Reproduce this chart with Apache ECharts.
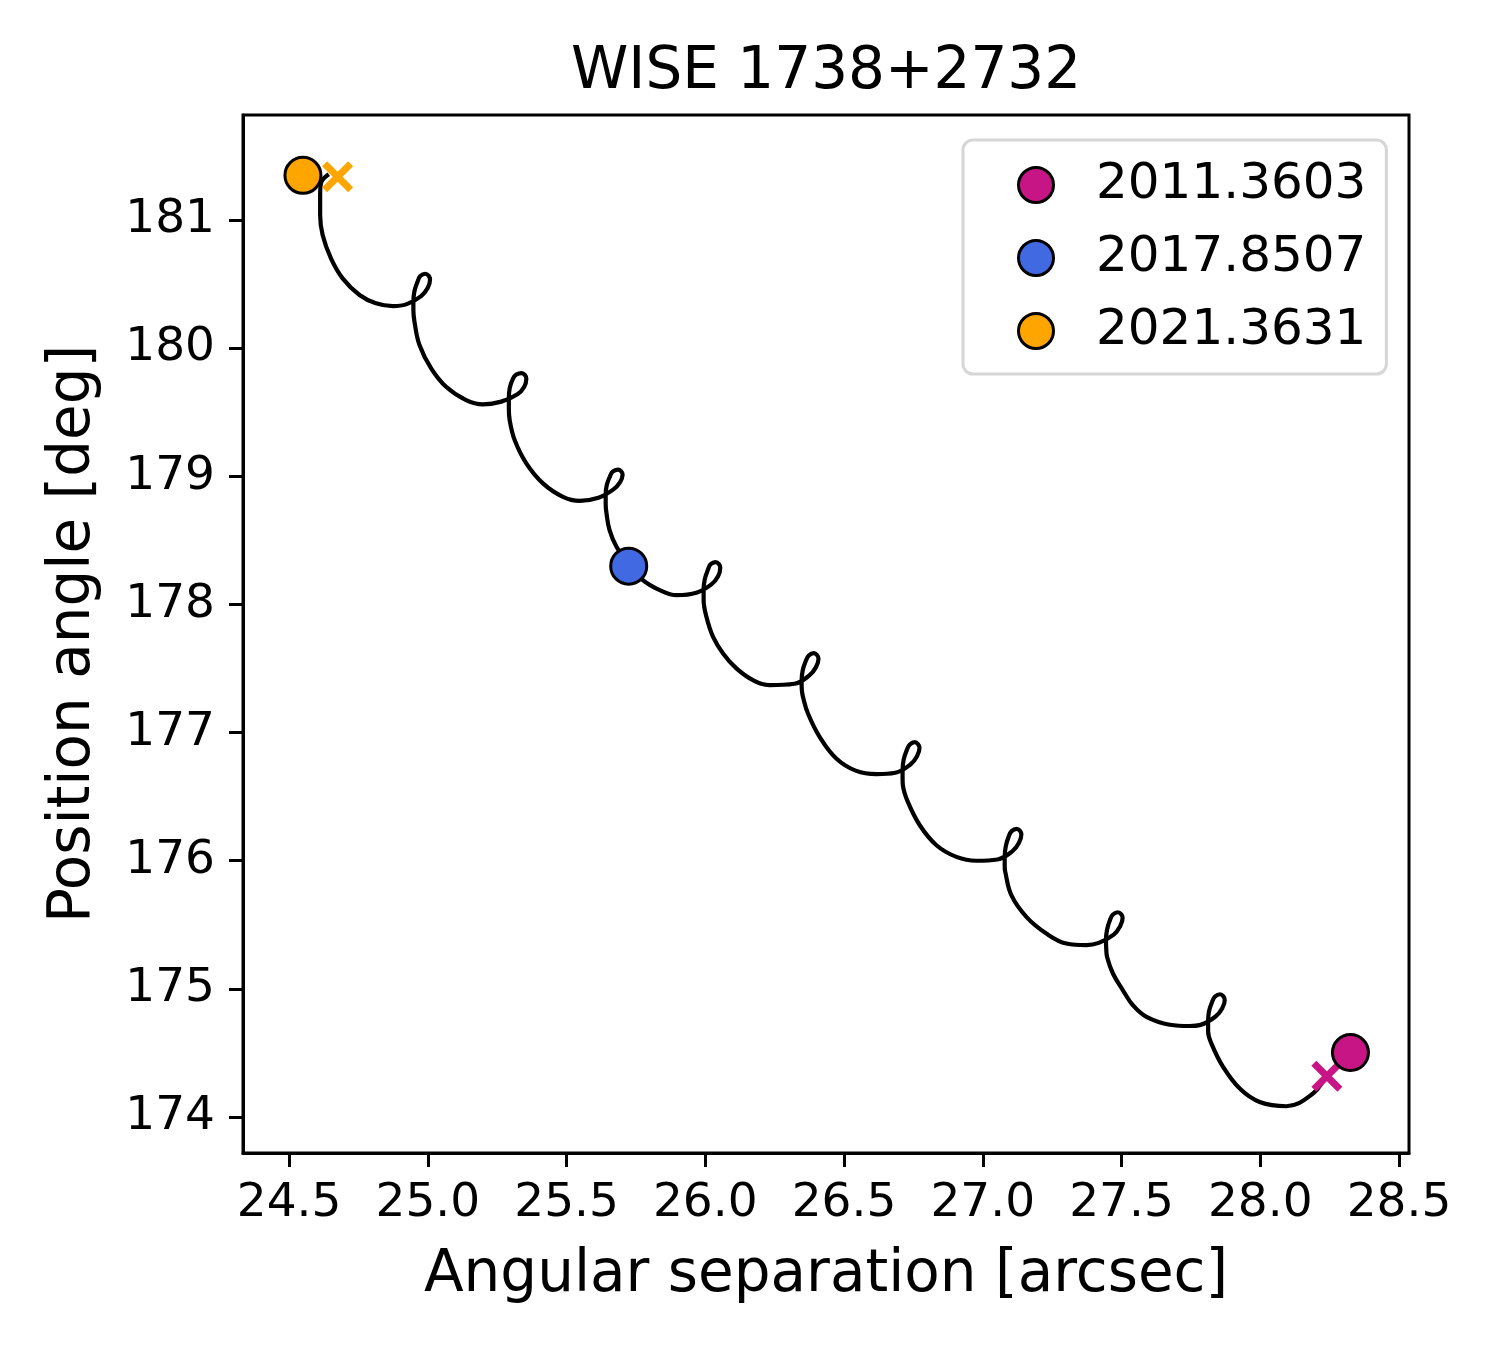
<!DOCTYPE html>
<html>
<head>
<meta charset="utf-8">
<title>WISE 1738+2732</title>
<script src="https://cdn.jsdelivr.net/npm/echarts@6.0.0/dist/echarts.min.js"></script>
<style>
  html, body { margin: 0; padding: 0; background: #fff; }
  #track { width: 1500px; height: 1350px; }
</style>
</head>
<body>
<div id="track"></div>
<script>
// separation / position angle of the model track, one row per yearly loop
const trackSep = [
    28.304, 28.240, 28.190, 28.094, 27.998, 27.926, 27.866, 27.824, 27.812, 27.812,
    27.815, 27.827, 27.837, 27.855, 27.872, 27.863, 27.839, 27.785,
    27.746, 27.674, 27.590, 27.541, 27.505, 27.469, 27.448, 27.445, 27.444,
    27.448, 27.459, 27.469, 27.487, 27.504, 27.495, 27.472, 27.418,
    27.373, 27.301, 27.229, 27.157, 27.103, 27.081, 27.079, 27.079,
    27.083, 27.094, 27.104, 27.122, 27.139, 27.130, 27.107, 27.053,
    26.977, 26.905, 26.833, 26.773, 26.730, 26.712, 26.711, 26.711,
    26.715, 26.727, 26.737, 26.755, 26.772, 26.763, 26.739, 26.685,
    26.617, 26.544, 26.472, 26.412, 26.370, 26.352, 26.348, 26.347,
    26.351, 26.363, 26.373, 26.391, 26.408, 26.399, 26.375, 26.321,
    26.232, 26.172, 26.112, 26.064, 26.028, 26.004, 25.994, 25.994,
    25.998, 26.010, 26.019, 26.037, 26.054, 26.046, 26.022, 25.968,
    25.896, 25.836, 25.775, 25.724, 25.680, 25.655, 25.644, 25.641, 25.641,
    25.645, 25.657, 25.666, 25.685, 25.702, 25.693, 25.669, 25.615,
    25.547, 25.487, 25.415, 25.355, 25.313, 25.295, 25.292, 25.292,
    25.295, 25.307, 25.319, 25.338, 25.355, 25.347, 25.323, 25.265,
    25.198, 25.138, 25.066, 25.012, 24.970, 24.952, 24.948, 24.948,
    24.952, 24.964, 24.973, 24.991, 25.008, 25.000, 24.976, 24.922,
    24.874, 24.813, 24.754, 24.693, 24.651, 24.621, 24.612, 24.612, 24.615, 24.643
];
const trackPa = [
    174.459, 174.318, 174.183, 174.084, 174.117, 174.222, 174.391, 174.573, 174.669, 174.740,
    174.823, 174.901, 174.940, 174.958, 174.914, 174.849, 174.784, 174.719,
    174.710, 174.720, 174.781, 174.872, 174.989, 175.120, 175.249, 175.310, 175.380,
    175.463, 175.541, 175.580, 175.598, 175.555, 175.489, 175.424, 175.359,
    175.341, 175.354, 175.432, 175.562, 175.731, 175.913, 175.957, 176.030,
    176.114, 176.192, 176.231, 176.249, 176.205, 176.139, 176.075, 176.010,
    176.000, 176.030, 176.121, 176.277, 176.459, 176.590, 176.637, 176.707,
    176.790, 176.868, 176.907, 176.925, 176.882, 176.816, 176.751, 176.687,
    176.676, 176.701, 176.798, 176.967, 177.149, 177.279, 177.331, 177.402,
    177.485, 177.563, 177.602, 177.620, 177.576, 177.511, 177.446, 177.381,
    177.370, 177.409, 177.501, 177.618, 177.747, 177.904, 178.034, 178.112,
    178.196, 178.274, 178.313, 178.331, 178.287, 178.221, 178.157, 178.092,
    178.073, 178.112, 178.190, 178.315, 178.450, 178.580, 178.711, 178.783, 178.854,
    178.932, 179.002, 179.037, 179.053, 179.014, 178.955, 178.898, 178.833,
    178.809, 178.840, 178.945, 179.101, 179.283, 179.439, 179.533, 179.603,
    179.687, 179.763, 179.794, 179.806, 179.762, 179.697, 179.640, 179.583,
    179.562, 179.595, 179.699, 179.843, 180.025, 180.206, 180.298, 180.363,
    180.446, 180.524, 180.563, 180.581, 180.537, 180.472, 180.407, 180.342,
    180.329, 180.350, 180.415, 180.545, 180.701, 180.883, 181.039, 181.196, 181.287, 181.357
];

// measured epochs
const epochs = ['2011.3603', '2017.8507', '2021.3631'];
const epochSep = [28.325, 25.724, 24.550];
const epochPa = [174.503, 178.299, 181.349];

// predicted positions (crosses) for first and last epoch
const predSep = [28.240, 24.675];
const predPa = [174.318, 181.338];

const xTicks = [24.5, 25.0, 25.5, 26.0, 26.5, 27.0, 27.5, 28.0, 28.5];
const yTicks = [174, 175, 176, 177, 178, 179, 180, 181];

const epochColors = ['#C71585', '#4169E1', '#FFA500'];
const crossPath = 'path://M1.6,0 L5,3.4 L8.4,0 L10,1.6 L6.6,5 L10,8.4 L8.4,10 L5,6.6 L1.6,10 L0,8.4 L3.4,5 L0,1.6 Z';
const font = 'DejaVu Sans';

const trackData = trackSep.map((s, i) => [s, trackPa[i]]);

const chart = echarts.init(document.getElementById('track'), null, { renderer: 'canvas' });

const epochSeries = epochs.map((name, i) => ({
    name: name,
    type: 'scatter',
    data: [[epochSep[i], epochPa[i]]],
    symbol: 'circle',
    symbolSize: 36,
    itemStyle: { color: epochColors[i], borderColor: '#000', borderWidth: 3, opacity: 1 },
    z: 5,
}));

const crossSeries = predSep.map((s, i) => ({
    type: 'scatter',
    data: [[s, predPa[i]]],
    symbol: crossPath,
    symbolSize: 31,
    itemStyle: { color: i === 0 ? epochColors[0] : epochColors[2], opacity: 1 },
    z: 4,
}));

const option = {
    animation: false,
    backgroundColor: '#fff',
    textStyle: { fontFamily: font, color: '#000' },
    title: {
        text: 'WISE 1738+2732',
        left: 571,
        top: 44,
        padding: 0,
        textStyle: { fontFamily: font, fontSize: 58, fontWeight: 'normal', color: '#000' },
    },
    legend: {
        data: epochs,
        orient: 'vertical',
        left: 963,
        top: 140,
        padding: [20, 20, 18, 54],
        itemWidth: 110,
        itemHeight: 35,
        itemGap: 23,
        symbolKeepAspect: true,
        icon: 'circle',
        itemStyle: { borderColor: '#000', borderWidth: 3 },
        backgroundColor: '#fff',
        borderColor: '#d6d6d6',
        borderWidth: 3,
        borderRadius: 10,
        textStyle: { fontFamily: font, fontSize: 50, color: '#000' },
    },
    grid: {
        left: 243,
        top: 115,
        width: 1166,
        height: 1038,
        show: true,
        borderColor: '#000',
        borderWidth: 3,
        containLabel: false,
    },
    xAxis: {
        type: 'value',
        min: 24.334,
        max: 28.536,
        name: 'Angular separation [arcsec]',
        nameLocation: 'middle',
        nameGap: 94,
        nameTextStyle: { fontFamily: font, fontSize: 58, color: '#000' },
        axisLine: { show: true, onZero: false, lineStyle: { color: '#000', width: 3 } },
        axisTick: { show: true, inside: false, length: 14, customValues: xTicks, lineStyle: { color: '#000', width: 3 } },
        axisLabel: {
            customValues: xTicks,
            margin: 27,
            fontFamily: font,
            fontSize: 47,
            color: '#000',
            formatter: v => v.toFixed(1),
        },
        splitLine: { show: false },
    },
    yAxis: {
        type: 'value',
        min: 173.719,
        max: 181.82,
        name: 'Position angle [deg]',
        nameLocation: 'middle',
        nameGap: 140,
        nameRotate: 90,
        nameTextStyle: { fontFamily: font, fontSize: 58, color: '#000' },
        axisLine: { show: true, onZero: false, lineStyle: { color: '#000', width: 3 } },
        axisTick: { show: true, inside: false, length: 14, customValues: yTicks, lineStyle: { color: '#000', width: 3 } },
        axisLabel: {
            customValues: yTicks,
            margin: 28,
            fontFamily: font,
            fontSize: 47,
            color: '#000',
            formatter: v => String(Math.round(v)),
        },
        splitLine: { show: false },
    },
    series: [
        {
            type: 'line',
            data: trackData,
            showSymbol: false,
            symbol: 'none',
            smooth: 0.4,
            lineStyle: { color: '#000', width: 4.2 },
            z: 2,
        },
        ...crossSeries,
        ...epochSeries,
    ],
};

chart.setOption(option);
</script>
</body>
</html>
